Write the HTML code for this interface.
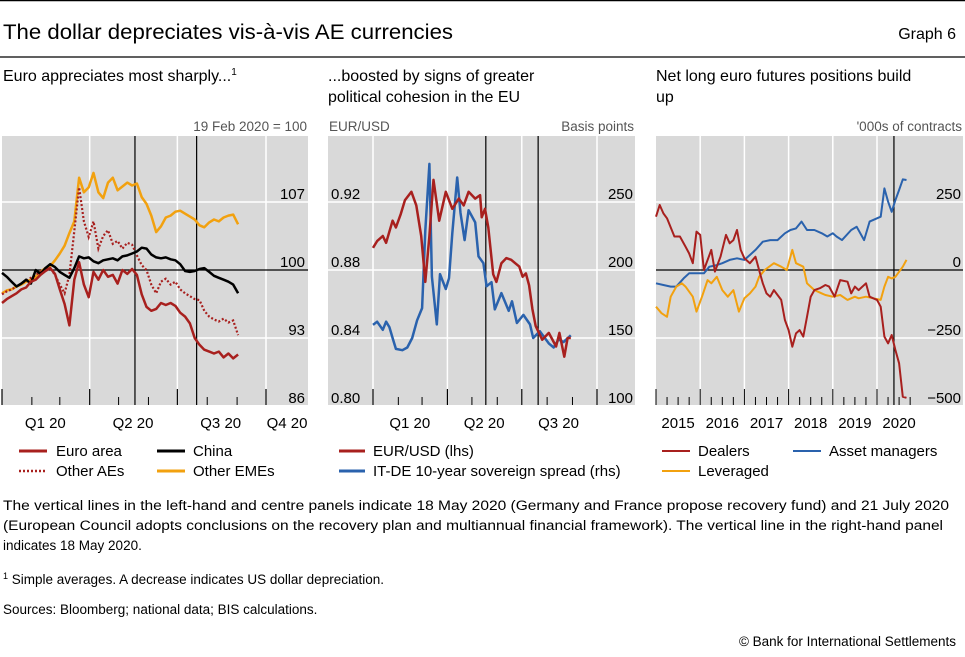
<!DOCTYPE html>
<html><head><meta charset="utf-8"><style>
html,body{margin:0;padding:0;background:#fff}
svg{display:block;font-family:"Liberation Sans",sans-serif}
</style></head><body>
<svg id="fig" width="965" height="657" viewBox="0 0 965 657" xmlns="http://www.w3.org/2000/svg">
<line x1="0" y1="0.5" x2="965" y2="0.5" stroke="#000" stroke-width="1.5"/>
<text x="3" y="39" font-size="21" textLength="450" lengthAdjust="spacingAndGlyphs">The dollar depreciates vis-à-vis AE currencies</text>
<text x="956" y="39" font-size="16" text-anchor="end">Graph 6</text>
<line x1="0" y1="57" x2="965" y2="57" stroke="#000" stroke-width="1.2"/>
<text x="3" y="81" font-size="16">Euro appreciates most sharply...<tspan font-size="10" dy="-6">1</tspan></text>
<text x="328" y="81" font-size="16">...boosted by signs of greater</text>
<text x="328" y="102" font-size="16">political cohesion in the EU</text>
<text x="656" y="81" font-size="16">Net long euro futures positions build</text>
<text x="656" y="102" font-size="16">up</text>
<text x="307" y="131" font-size="13.5" fill="#555" text-anchor="end">19 Feb 2020 = 100</text>
<text x="329" y="131" font-size="13.5" fill="#555">EUR/USD</text>
<text x="634" y="131" font-size="13.5" fill="#555" text-anchor="end">Basis points</text>
<text x="962" y="131" font-size="13.5" fill="#555" text-anchor="end">'000s of contracts</text>
<g id="p1"></g>
<g id="p2"></g>
<g id="p3"></g>
<g font-size="15">
<line x1="19" y1="451" x2="47" y2="451" stroke="#a8201e" stroke-width="3"/>
<text x="56" y="456">Euro area</text>
<line x1="19" y1="471" x2="47" y2="471" stroke="#a8201e" stroke-width="2.5" stroke-dasharray="2,2"/>
<text x="56" y="476">Other AEs</text>
<line x1="157" y1="451" x2="185" y2="451" stroke="#000" stroke-width="3"/>
<text x="193" y="456">China</text>
<line x1="157" y1="471" x2="185" y2="471" stroke="#f2a10f" stroke-width="3"/>
<text x="193" y="476">Other EMEs</text>
</g>
<g font-size="15">
<line x1="339" y1="451" x2="365" y2="451" stroke="#a8201e" stroke-width="3"/>
<text x="373" y="456">EUR/USD (lhs)</text>
<line x1="339" y1="471" x2="365" y2="471" stroke="#2a62ad" stroke-width="3"/>
<text x="373" y="476">IT-DE 10-year sovereign spread (rhs)</text>
</g>
<g font-size="15">
<line x1="662" y1="451" x2="690" y2="451" stroke="#a8201e" stroke-width="2"/>
<text x="698" y="456">Dealers</text>
<line x1="662" y1="471" x2="690" y2="471" stroke="#f2a10f" stroke-width="2"/>
<text x="698" y="476">Leveraged</text>
<line x1="793" y1="451" x2="821" y2="451" stroke="#2a62ad" stroke-width="2"/>
<text x="829" y="456">Asset managers</text>
</g>
<g font-size="13.5">
<text x="3" y="510" textLength="946" lengthAdjust="spacingAndGlyphs">The vertical lines in the left-hand and centre panels indicate 18 May 2020 (Germany and France propose recovery fund) and 21 July 2020</text>
<text x="3" y="530" textLength="940" lengthAdjust="spacingAndGlyphs">(European Council adopts conclusions on the recovery plan and multiannual financial framework). The vertical line in the right-hand panel</text>
<text x="3" y="550">indicates 18 May 2020.</text>
<text x="3" y="584"><tspan font-size="9" dy="-5">1</tspan><tspan dy="5">  Simple averages. A decrease indicates US dollar depreciation.</tspan></text>
<text x="3" y="614">Sources: Bloomberg; national data; BIS calculations.</text>
<text x="956" y="646" text-anchor="end">© Bank for International Settlements</text>
</g>
</svg>
<script>
// ---- Left panel data (day of 2020, index level) ----
const days1 = [0,5,10,15,20,25,30,35,40,45,50,55,60,65,70,75,80,85,90,95,100,105,110,115,120,125,130,135,140,145,150,155,160,165,170,175,180,185,190,195,200,205,210,215,220,225,230,235,240,245];
const euroArea = [96.6,97.0,97.3,97.6,98.0,98.2,98.8,99.0,99.5,99.9,100.2,99.6,98.0,96.5,94.3,99.0,100.8,98.5,97.2,99.8,99.0,100.0,99.3,99.5,98.6,100.0,99.6,100.1,99.5,97.5,96.2,95.8,96.0,96.6,96.4,96.6,96.3,95.6,95.2,94.5,93.0,92.3,91.8,91.6,91.4,91.6,91.0,91.4,90.9,91.3];
const otherAEs = [97.5,97.8,98.0,98.3,98.6,98.9,99.2,99.5,99.8,100.0,100.2,99.5,98.5,97.6,99.5,104,108.5,105,103.4,105,102.2,103.5,104.1,102.7,103,102.2,102.8,102.6,101.5,100.5,100,98.5,97.6,98.8,99.1,98.5,98.8,98.0,97.6,97.3,97.0,96.9,95.8,95.2,94.9,94.7,95.0,94.6,94.8,93.3];
const china = [99.7,99.3,98.8,98.3,98.6,99.0,98.6,100.0,99.6,100.2,100.6,100.3,99.8,99.5,99.2,100.2,101.4,101.2,101.3,100.9,100.7,101.0,101.1,101.2,101.0,101.4,101.5,101.7,101.9,102.3,102.2,101.6,101.3,101.2,101.3,101.1,101.0,100.6,99.9,99.8,99.9,100.1,100.2,99.8,99.4,99.2,99.0,98.8,98.5,97.6];
const otherEMEs = [97.6,97.9,98.0,98.3,98.5,98.8,99.0,99.3,99.8,100.2,100.4,101.0,101.7,102.5,103.8,105,109.5,108,108.5,110,108,107.4,109,109.5,108.2,108.6,109,108.7,108.9,107.5,106.8,105.6,103.9,104.5,105.4,105.6,106,106.1,105.8,105.5,105.2,104.6,104.4,104.9,105.2,105.0,105.4,105.6,105.7,104.7];
const ticks1 = [86,93,100,107];
const qLabels1 = ["Q1 20","Q2 20","Q3 20","Q4 20"];
const eventDays = [138,202];

// ---- Centre panel data ----
const eurDays = [0,5,12,16,24,28,34,39,47,53,59,64,69,74,81,89,97,105,111,117,125,131,133,137,141,147,151,157,163,169,174,179,183,187,191,195,199,207,215,224,228,234,238,242];
const eurUsd = [0.893,0.897,0.900,0.896,0.909,0.905,0.913,0.921,0.926,0.918,0.900,0.873,0.900,0.933,0.909,0.926,0.916,0.922,0.918,0.926,0.922,0.924,0.911,0.916,0.905,0.8775,0.873,0.884,0.887,0.886,0.884,0.882,0.876,0.878,0.871,0.857,0.847,0.839,0.843,0.835,0.843,0.829,0.840,0.840];
const spreadDays = [0,5,12,16,20,24,28,36,42,48,54,60,64,69,72,78,82,89,93,97,103,107,112,117,125,129,135,139,145,149,157,166,170,176,184,192,196,204,215,221,227,233,242];
const itDeSpread = [159.6,162,156,162,158,150,142,141,143,150,163,172,229,278,195,160,197,186,194,227,268,242,222,244,235,210,205,188,191,171,183,170,177,161,167,160,150,155,146,143,149,147,152];
const ticksL2 = ["0.80","0.84","0.88","0.92"];
const ticksR2 = [100,150,200,250];
const qLabels2 = ["Q1 20","Q2 20","Q3 20"];

// ---- Right panel data (months since Jan 2015, '000s contracts) ----
const dealersT = [0,1,2,3,5,6.5,8,9,10,11,12,13,15,16,17.5,19,20,21,22,23,24,25.5,27,28,29,30,31,32,34,35,36,37,38,39,40,41,42,43,44.5,46,47,48.5,50,52,53,54,55,57,58,60,61,62,63,64,65,66,67,68];
const dealers = [196,239,208,190,123,123,86,61,25,141,129,0,74,-6,49,129,98,110,147,74,43,25,49,0,-49,-86,-98,-74,-110,-184,-221,-282,-233,-221,-245,-172,-98,-74,-67,-55,-61,-98,-37,-43,-86,-61,-74,-49,-98,-110,-135,-245,-270,-239,-294,-343,-466,-470];
const leveragedT = [0,1.5,3,4,5.5,7,8,10,11,12.5,14,15,16.5,18,19.5,21,22.5,24,25.5,27,28,29.5,32,34,35.5,37,38,40,41,43,45,46,48,50,52,54,55,57,59,61,62,63,64,65,67,68];
const leveraged = [-135,-159,-172,-98,-61,-49,-61,-98,-153,-98,-37,-49,-25,-74,-98,-74,-153,-104,-86,-61,-25,0,25,12,0,74,25,12,-49,-74,-86,-92,-98,-92,-110,-98,-104,-98,-104,-110,-61,-25,-31,-25,12,37];
const assetT = [0,2,4,5.5,7.5,9,11,13,14.5,16.5,18,20,22,24,25.5,27,29,31,33,35,36.5,38,39.5,41,43,45,46.5,48,49,50.5,53,54.5,56.5,58,60,61,62,63,64,65,66,67,68];
const assetManagers = [-49,-55,-61,-61,-31,-12,-12,-12,12,18,25,37,43,37,55,74,104,110,110,135,147,153,178,147,147,135,123,135,123,110,147,159,110,178,190,196,300,251,214,257,294,333,331];
const ticks3 = [-500,-250,0,250];
const yearLabels = ["2015","2016","2017","2018","2019","2020"];

const NS = "http://www.w3.org/2000/svg";
const RED = "#a8201e", ORANGE = "#f2a10f", BLUE = "#2a62ad";
function mk(parent, tag, attrs){ const e=document.createElementNS(NS,tag); for(const k in attrs) e.setAttribute(k,attrs[k]); parent.appendChild(e); return e; }
function pathD(xs, ys, fx, fy){ return xs.map((t,i)=>(i?"L":"M")+fx(t).toFixed(1)+","+fy(ys[i]).toFixed(1)).join(""); }

const TOP=136, BOT=405;

// ================= Panel 1 =================
(function(){
  const g=document.getElementById("p1");
  const L=2,R=308;
  const x=d=>2+d*264/274;
  const y=v=>270-(v-100)*68/7;
  const bg=mk(g,"rect",{x:L,y:TOP,width:R-L,height:BOT-TOP,fill:"#d9d9d9"});
  
  
  [91,182,274].forEach(d=>{ const l=mk(g,"line",{x1:x(d),x2:x(d),y1:TOP,y2:BOT,stroke:"#fff","stroke-width":1.5});
    
     });
  ticks1.forEach(v=>{ if(v===86) return; const l=mk(g,"line",{x1:L,x2:R,y1:y(v),y2:y(v),stroke:v===100?"#000":"#fff","stroke-width":v===100?1.2:1.5});
    
     });
  ticks1.forEach(v=>{ const t=mk(g,"text",{x:305,y:y(v)-3,"font-size":15,"text-anchor":"end"}); t.textContent=v;
    
     });
  [0,91,182,274].forEach(d=>{ const l=mk(g,"line",{x1:x(d),x2:x(d),y1:BOT-16,y2:BOT,stroke:"#000","stroke-width":1.2});
    
     });
  [31,60,121,152,213,244].forEach(d=>{ const l=mk(g,"line",{x1:x(d),x2:x(d),y1:BOT-8,y2:BOT,stroke:"#000","stroke-width":1});
    
     });
  qLabels1.forEach((s,i)=>{ const cx=i<3?x(i*91+45):287; const t=mk(g,"text",{x:cx,y:428,"font-size":15,"text-anchor":"middle"}); t.textContent=s;
    
     });
  eventDays.forEach(d=>{ const l=mk(g,"line",{x1:x(d),x2:x(d),y1:TOP,y2:BOT,stroke:"#000","stroke-width":1.2});
    
     });
  const s1=mk(g,"path",{d:pathD(days1,otherEMEs,x,y),fill:"none",stroke:ORANGE,"stroke-width":2.5,"stroke-linejoin":"round"});
  
  
  const s2=mk(g,"path",{d:pathD(days1,otherAEs,x,y),fill:"none",stroke:RED,"stroke-width":2.2,"stroke-dasharray":"2,2"});
  
  
  const s3=mk(g,"path",{d:pathD(days1,china,x,y),fill:"none",stroke:"#000","stroke-width":2.5,"stroke-linejoin":"round"});
  
  
  const s4=mk(g,"path",{d:pathD(days1,euroArea,x,y),fill:"none",stroke:RED,"stroke-width":2.5,"stroke-linejoin":"round"});
  
  
})();

// ================= Panel 2 =================
(function(){
  const g=document.getElementById("p2");
  const L=328,R=635;
  const x=d=>373+d*224/274;
  const yl=v=>270-(v-0.88)*68/0.04;
  const yr=v=>270-(v-200)*68/50;
  const bg=mk(g,"rect",{x:L,y:TOP,width:R-L,height:BOT-TOP,fill:"#d9d9d9"});
  
  
  [0,91,182,274].forEach(d=>{ const l=mk(g,"line",{x1:x(d),x2:x(d),y1:TOP,y2:BOT,stroke:"#fff","stroke-width":1.5});
    
     });
  ticksR2.forEach(v=>{ if(v===100) return; const l=mk(g,"line",{x1:L,x2:R,y1:yr(v),y2:yr(v),stroke:"#fff","stroke-width":1.5});
    
     });
  ticksL2.forEach(v=>{ const t=mk(g,"text",{x:331,y:yl(+v)-3,"font-size":15}); t.textContent=v;
    
     });
  ticksR2.forEach(v=>{ const t=mk(g,"text",{x:633,y:yr(v)-3,"font-size":15,"text-anchor":"end"}); t.textContent=v;
    
     });
  [0,91,182,274].forEach(d=>{ const l=mk(g,"line",{x1:x(d),x2:x(d),y1:BOT-16,y2:BOT,stroke:"#000","stroke-width":1.2});
    
     });
  [31,60,121,152,213,244].forEach(d=>{ const l=mk(g,"line",{x1:x(d),x2:x(d),y1:BOT-8,y2:BOT,stroke:"#000","stroke-width":1});
    
     });
  qLabels2.forEach((s,i)=>{ const t=mk(g,"text",{x:x(i*91+45),y:428,"font-size":15,"text-anchor":"middle"}); t.textContent=s;
    
     });
  eventDays.forEach(d=>{ const l=mk(g,"line",{x1:x(d),x2:x(d),y1:TOP,y2:BOT,stroke:"#000","stroke-width":1.2});
    
     });
  const s1=mk(g,"path",{d:pathD(spreadDays,itDeSpread,x,yr),fill:"none",stroke:BLUE,"stroke-width":2.5,"stroke-linejoin":"round"});
  
  
  const s2=mk(g,"path",{d:pathD(eurDays,eurUsd,x,yl),fill:"none",stroke:RED,"stroke-width":2.5,"stroke-linejoin":"round"});
  
  
})();

// ================= Panel 3 =================
(function(){
  const g=document.getElementById("p3");
  const L=656,R=963;
  const x=m=>656+m*44.2/12;
  const y=v=>270-v*68/250;
  const bg=mk(g,"rect",{x:L,y:TOP,width:R-L,height:BOT-TOP,fill:"#d9d9d9"});
  
  
  [12,24,36,48,60].forEach(m=>{ const l=mk(g,"line",{x1:x(m),x2:x(m),y1:TOP,y2:BOT,stroke:"#fff","stroke-width":1.5});
    
     });
  ticks3.forEach(v=>{ if(v===-500) return; const l=mk(g,"line",{x1:L,x2:R,y1:y(v),y2:y(v),stroke:v===0?"#000":"#fff","stroke-width":v===0?1.2:1.5});
    
     });
  ticks3.forEach(v=>{ const t=mk(g,"text",{x:961,y:y(v)-3,"font-size":15,"text-anchor":"end"}); t.textContent=v<0?"\u2212"+(-v):v;
    
     });
  for(let m=0;m<=69;m+=3){ const major=m%12===0; const l=mk(g,"line",{x1:x(m),x2:x(m),y1:BOT-(major?16:8),y2:BOT,stroke:"#000","stroke-width":1});
    
     }
  yearLabels.forEach((s,i)=>{ const t=mk(g,"text",{x:x(i*12+6),y:428,"font-size":15,"text-anchor":"middle"}); t.textContent=s;
    
     });
  const ev=mk(g,"line",{x1:x(64.6),x2:x(64.6),y1:TOP,y2:BOT,stroke:"#000","stroke-width":1.2});
  
  
  const s1=mk(g,"path",{d:pathD(assetT,assetManagers,x,y),fill:"none",stroke:BLUE,"stroke-width":2,"stroke-linejoin":"round"});
  
  
  const s2=mk(g,"path",{d:pathD(leveragedT,leveraged,x,y),fill:"none",stroke:ORANGE,"stroke-width":2,"stroke-linejoin":"round"});
  
  
  const s3=mk(g,"path",{d:pathD(dealersT,dealers,x,y),fill:"none",stroke:RED,"stroke-width":2,"stroke-linejoin":"round"});
  
  
})();
</script>
</body></html>
